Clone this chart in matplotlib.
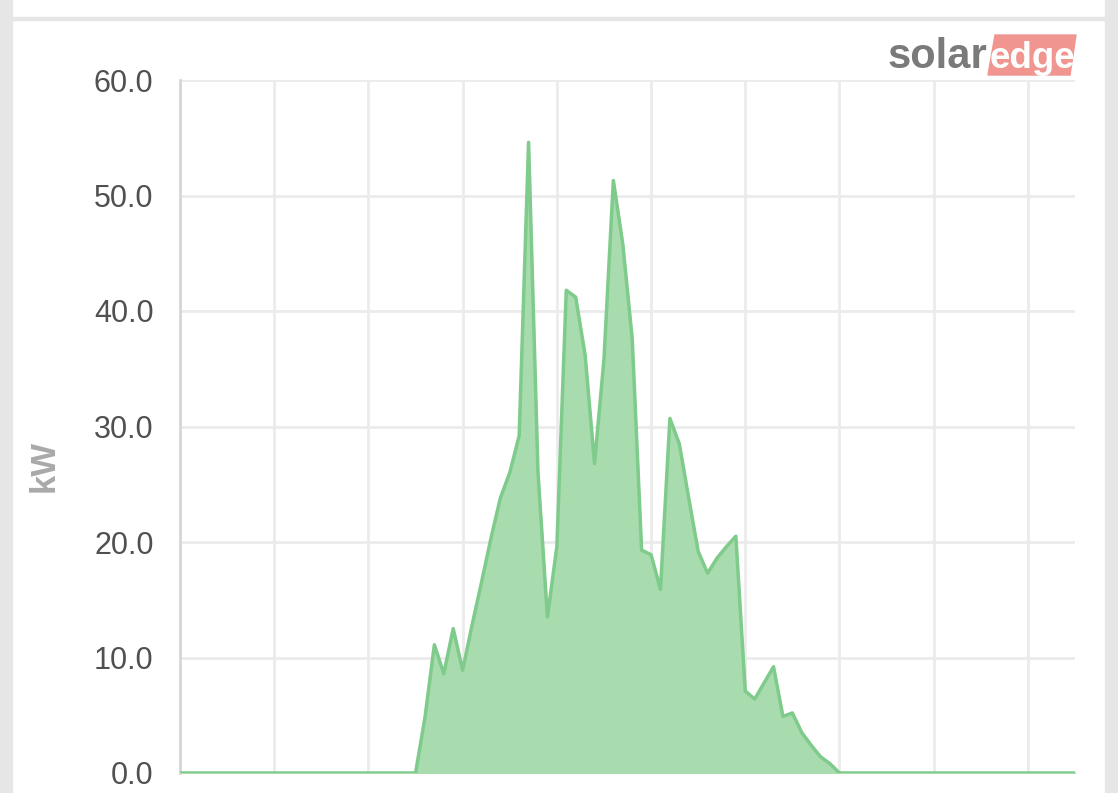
import numpy as np
import matplotlib.pyplot as plt
from matplotlib.patches import Rectangle, Polygon

# 15-minute power readings over the day (96 points), kW
power_kw = [0.0] * 25 + [
    0.0, 4.8, 11.1, 8.6, 12.5, 8.9, 12.8, 16.5, 20.3, 23.8,
    26.0, 29.2, 54.6, 26.0, 13.5, 19.6, 41.8, 41.2, 36.2, 26.8,
    35.8, 51.3, 45.8, 37.6, 19.3, 18.9, 15.9, 30.7, 28.5, 23.8,
    19.2, 17.3, 18.6, 19.6, 20.5, 7.1, 6.4, 7.8, 9.2, 4.9,
    5.2, 3.5, 2.4, 1.4, 0.8, 0.0,
]
power_kw += [0.0] * (96 - len(power_kw))
y_ticks = [0, 10, 20, 30, 40, 50, 60]
x_grid = list(range(0, 91, 10))

x = np.arange(len(power_kw))

fig = plt.figure(figsize=(11.18, 7.93), dpi=100)
fig.patch.set_facecolor('white')

# card frame
fig.patches.append(Rectangle((0, 0), 12/1118, 1, transform=fig.transFigure,
                             color='#e6e6e6', zorder=0))
fig.patches.append(Rectangle((1105/1118, 0), 13/1118, 1, transform=fig.transFigure,
                             color='#e6e6e6', zorder=0))
fig.patches.append(Rectangle((12/1118, 1 - 20/793), 1093/1118, 3/793,
                             transform=fig.transFigure, color='#e6e6e6', zorder=0))

ax = fig.add_axes([180/1118, 1 - 773/793, 895/1118, 693/793])
ax.fill_between(x, power_kw, color='#a8dbae', zorder=2)
ax.plot(x, power_kw, color='#7fcb8b', lw=2.5, zorder=3)

ax.set_xlim(0, 95)
ax.set_ylim(0, 60)
ax.set_yticks(y_ticks)
ax.set_yticklabels([f'{v:.1f}' for v in y_ticks])
ax.set_xticks(x_grid)
ax.tick_params(axis='x', length=0, labelbottom=False)
ax.tick_params(axis='y', length=0, pad=19, labelsize=22, labelcolor='#505050')
for lab in ax.get_yticklabels():
    lab.set_family('Liberation Sans')
ax.grid(True, color='#ebebeb', lw=2)
ax.set_axisbelow(True)
for s in ['top', 'right', 'bottom']:
    ax.spines[s].set_visible(False)
ax.spines['left'].set_color('#d6d6d6')
ax.spines['left'].set_linewidth(2)

fig.text(44/1118, 1 - 466/793, 'kW', rotation=90, ha='center', va='center',
         fontsize=25, color='#a9a9a9', fontweight='bold', family='Liberation Sans')

# logo
fig.patches.append(Polygon([(988/1118, 1 - 75/793), (1070/1118, 1 - 75/793),
                            (1076/1118, 1 - 35/793), (995/1118, 1 - 35/793)],
                           closed=True, transform=fig.transFigure,
                           color='#f0958f', zorder=1))
fig.text(987/1118, 1 - 68/793, 'solar', ha='right', va='baseline', fontsize=30,
         color='#7a7a7a', fontweight='bold', family='Liberation Sans')
fig.text(990/1118, 1 - 68/793, 'edge', ha='left', va='baseline', fontsize=26.5,
         color='white', fontweight='bold', family='Liberation Sans')

fig.savefig('out.png', dpi=100)
